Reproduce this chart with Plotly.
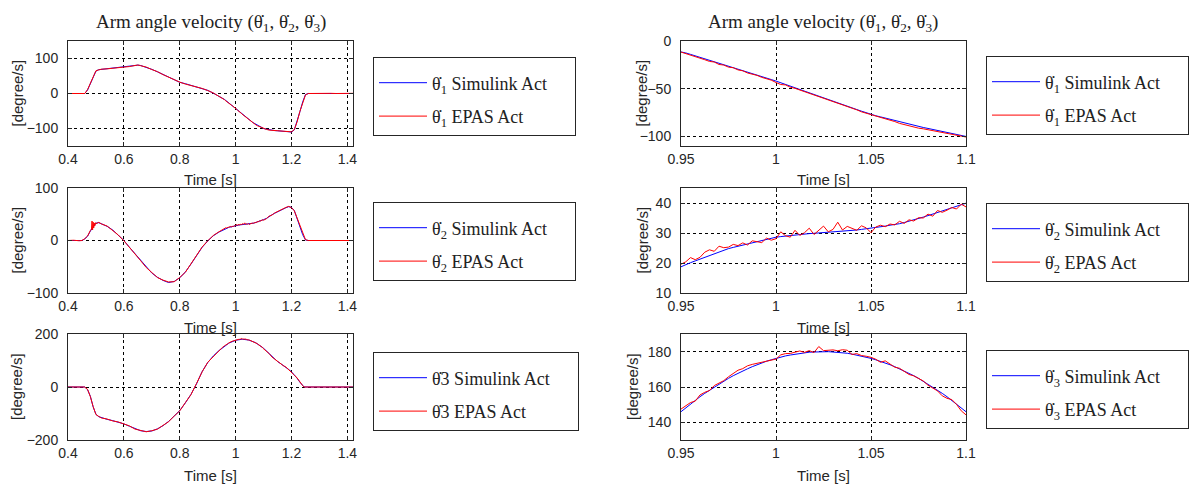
import plotly.graph_objects as go

# ---------------- data ----------------
# fine time grid used inside the zoomed window (0.95 .. 1.1 s)
t_fine = [round(0.95 + 0.0025 * i, 4) for i in range(61)]

# ---- theta1 ----
t1_pre = [0.40, 0.42, 0.44, 0.46, 0.47, 0.48, 0.49, 0.50, 0.51, 0.52, 0.54, 0.56, 0.58, 0.60, 0.62, 0.64,
          0.65, 0.66, 0.68, 0.70, 0.72, 0.74, 0.76, 0.78, 0.80, 0.82, 0.84, 0.86, 0.88, 0.90, 0.92, 0.94]
sim1_pre = [0, 0, 0, 0, 10, 28, 47, 64, 68, 69, 70, 72, 73.5, 75, 77.5, 80,
            81, 80, 75, 69, 62, 55, 46, 39, 32, 28, 23, 19, 14, 9, 1, -7]
epas1_pre = [0, 0.5, -0.5, 0, 11, 29, 46, 65, 67.5, 69.5, 70.5, 71.5, 74, 75.5, 77, 80.5,
             81.5, 79.5, 75.5, 68.5, 62.5, 54, 46.5, 38.5, 32.5, 27, 23.5, 18.5, 14.5, 8.5, 1.5, -8]
sim1_fine = [-11.0, -12.5, -14.0, -15.5, -17.0, -18.5, -20.0, -21.5, -23.0, -24.5,
             -26.0, -27.6, -29.2, -30.8, -32.4, -34.0, -35.6, -37.2, -38.8, -40.4,
             -42.0, -43.8, -45.5, -47.3, -49.0, -50.8, -52.5, -54.3, -56.0, -57.8,
             -59.5, -61.3, -63.0, -64.8, -66.5, -68.3, -70.0, -71.8, -73.5, -75.3,
             -77.0, -78.3, -79.5, -80.8, -82.0, -83.3, -84.5, -85.8, -87.0, -88.3,
             -89.5, -90.6, -91.6, -92.7, -93.7, -94.8, -95.8, -96.9, -97.9, -99.0, -100.0]
epas1_fine = [-11.6, -13.1, -14.3, -16.4, -17.5, -19.6, -21.4, -22.0, -24.6, -25.2,
              -27.4, -28.0, -30.3, -31.2, -33.5, -34.6, -36.0, -38.1, -39.2, -41.0,
              -43.5, -45.6, -46.0, -48.4, -49.6, -51.3, -53.1, -54.9, -56.4, -58.6,
              -60.2, -61.8, -63.9, -65.1, -67.2, -68.6, -70.8, -72.1, -74.2, -75.6,
              -77.4, -78.6, -80.2, -81.5, -83.1, -84.4, -86.3, -87.6, -88.5, -90.4,
              -91.3, -92.0, -92.9, -94.1, -94.8, -96.2, -96.9, -98.2, -98.8, -99.9, -100.6]
t1_post = [1.11, 1.12, 1.13, 1.14, 1.15, 1.16, 1.17, 1.18, 1.19, 1.20, 1.21, 1.22, 1.23, 1.24, 1.25, 1.26,
           1.28, 1.30, 1.32, 1.34, 1.36, 1.38, 1.40, 1.42]
sim1_post = [-102, -104, -105.5, -106, -106.5, -107, -107, -107.5, -108, -110, -104, -80, -52, -24, -3, 0,
             0, 0, 0, 0, 0, 0, 0, 0]
epas1_post = [-102.5, -104.5, -105, -106.5, -107, -106.5, -107.5, -108, -108.5, -109.5, -103, -81, -51, -25, -4, 0,
              0.5, -0.5, 0, 0.5, 0, -0.5, 0, 0.5]

# ---- theta2 ----
t2_pre = [0.40, 0.42, 0.44, 0.45, 0.46, 0.47, 0.48, 0.484, 0.486, 0.488, 0.490, 0.492, 0.494, 0.496, 0.498,
          0.50, 0.51, 0.52, 0.54, 0.56, 0.58, 0.60, 0.62, 0.64, 0.66, 0.68, 0.70, 0.72, 0.74, 0.76,
          0.78, 0.80, 0.82, 0.84, 0.86, 0.88, 0.90, 0.92, 0.94]
sim2_pre = [0, 0, 0, 0, 3, 8, 18, 21, 23, 25, 27, 29, 30.5, 31.5, 32.5,
            33, 34, 32, 27, 20, 10, 0, -13, -25, -39, -51, -62, -70, -76, -80,
            -78, -71, -60, -45, -30, -13, -1, 9, 16]
epas2_pre = [0, 0.5, -0.5, 0, 3.5, 8.5, 19, 22, 37, 20, 35, 24, 33, 28, 34,
             32, 34.5, 31.5, 27.5, 19.5, 10.5, -0.5, -12.5, -25.5, -38.5, -51.5, -61.5, -70.5, -75.5, -79,
             -78.5, -70.5, -60.5, -44.5, -30.5, -12.5, -0.5, 9.5, 16.5]
sim2_fine = [18.9, 19.5, 20.1, 20.7, 21.3, 21.9, 22.6, 23.2, 23.8, 24.4,
             24.8, 25.2, 25.6, 26.0, 26.3, 26.7, 27.1, 27.5, 27.9, 28.2,
             28.6, 28.8, 29.0, 29.2, 29.4, 29.6, 29.7, 29.8, 29.9, 30.0,
             30.1, 30.2, 30.3, 30.4, 30.5, 30.6, 30.8, 31.0, 31.2, 31.4,
             31.5, 31.8, 32.0, 32.3, 32.6, 32.8, 33.1, 33.5, 33.9, 34.3,
             34.8, 35.3, 35.8, 36.3, 36.8, 37.4, 37.9, 38.4, 38.9, 39.4, 39.8]
epas2_fine = [19.6, 20.4, 21.8, 21.1, 21.9, 23.6, 24.4, 23.9, 25.6, 25.1,
              25.3, 26.2, 25.8, 26.7, 26.0, 27.4, 27.1, 26.8, 28.3, 27.6,
              28.1, 30.4, 29.1, 28.6, 30.9, 29.2, 30.1, 31.6, 29.5, 30.8,
              32.3, 30.4, 31.2, 33.6, 31.0, 32.2, 31.5, 30.9, 32.4, 31.7,
              30.1, 32.0, 32.6, 32.1, 33.0, 32.7, 33.9, 33.2, 34.4, 34.0,
              35.1, 35.0, 36.3, 35.6, 37.5, 36.9, 37.6, 38.5, 38.0, 39.6, 38.7]
t2_post = [1.11, 1.12, 1.13, 1.14, 1.15, 1.16, 1.17, 1.18, 1.19, 1.20, 1.21, 1.22, 1.23, 1.24, 1.25, 1.26,
           1.28, 1.30, 1.32, 1.34, 1.36, 1.38, 1.40, 1.42]
sim2_post = [42, 46, 49, 52, 55, 57.5, 60, 62.5, 64.5, 63, 57, 42, 26, 11, 1, 0,
             0, 0, 0, 0, 0, 0, 0, 0]
epas2_post = [41.5, 46.5, 48.5, 52.5, 55.5, 57, 60.5, 63, 65, 62.5, 56.5, 42.5, 25.5, 11.5, 1.5, 0,
              0, 0, 0, 0, 0, 0, 0, 0]

# ---- theta3 ----
t3_pre = [0.40, 0.42, 0.44, 0.46, 0.47, 0.48, 0.49, 0.50, 0.51, 0.52, 0.54, 0.56, 0.58, 0.60, 0.62,
          0.64, 0.66, 0.68, 0.70, 0.72, 0.74, 0.76, 0.78, 0.80, 0.82, 0.84, 0.86, 0.88, 0.90, 0.92, 0.94]
sim3_pre = [0, 0, 0, 0, -10, -35, -75, -103, -112, -116, -122, -127, -133, -139, -148,
            -158, -165, -168, -166, -158, -146, -130, -111, -89, -60, -28, 12, 58, 92, 117, 137]
epas3_pre = [0, 0, 0, 0, -9, -36, -74, -104, -111, -117, -121, -128, -132, -140, -147,
             -159, -164, -169, -165, -159, -145, -131, -110, -90, -59, -29, 13, 57, 93, 116, 138]
sim3_fine = [146.0, 148.2, 150.4, 152.5, 154.5, 156.4, 158.2, 160.0, 161.7, 163.3,
             164.9, 166.4, 167.8, 169.1, 170.3, 171.5, 172.6, 173.6, 174.6, 175.4,
             176.2, 176.9, 177.6, 178.1, 178.6, 179.1, 179.4, 179.7, 179.8, 180.0,
             180.0, 180.0, 179.8, 179.7, 179.4, 179.1, 178.6, 178.1, 177.6, 176.9,
             176.2, 175.4, 174.6, 173.6, 172.6, 171.5, 170.3, 169.1, 167.8, 166.4,
             164.9, 163.3, 161.7, 160.0, 158.2, 156.4, 154.5, 152.5, 150.4, 148.2, 146.0]
epas3_fine = [147.5, 149.5, 151.2, 152.0, 155.5, 157.0, 158.0, 160.8, 162.0, 163.6,
              165.8, 167.9, 169.5, 170.4, 172.0, 172.8, 173.4, 174.3, 174.9, 175.6,
              175.8, 178.2, 178.9, 179.0, 179.5, 180.4, 179.6, 180.6, 179.5, 182.9,
              180.6, 180.9, 181.0, 180.5, 181.1, 180.8, 178.4, 178.9, 177.8, 177.4,
              176.8, 175.7, 174.0, 174.8, 172.9, 171.2, 170.6, 168.8, 167.1, 166.3,
              164.6, 163.4, 161.0, 159.6, 157.8, 155.0, 153.6, 152.9, 150.2, 146.5, 144.3]
t3_post = [1.11, 1.12, 1.13, 1.14, 1.15, 1.16, 1.17, 1.18, 1.19, 1.20, 1.21, 1.22, 1.23, 1.24, 1.245,
           1.26, 1.28, 1.30, 1.32, 1.34, 1.36, 1.38, 1.40, 1.42]
sim3_post = [136, 125, 114, 104, 96, 89, 82, 74, 66, 57, 46, 33, 18, 4, 0,
             0, 0, 0, 0, 0, 0, 0, 0, 0]
epas3_post = [135, 126, 113, 105, 95, 90, 81, 75, 65, 58, 45, 34, 17, 5, 0,
              0, 0, 0, 0, 0, 0, 0, 0, 0]

# tick labels
left_xticks = [0.4, 0.6, 0.8, 1.0, 1.2, 1.4]
left_xtext = ["0.4", "0.6", "0.8", "1", "1.2", "1.4"]
right_xticks = [0.95, 1.0, 1.05, 1.1]
right_xtext = ["0.95", "1", "1.05", "1.1"]
yticks = {
    1: [-100, 0, 100], 2: [-100, -50, 0],
    3: [-100, 0, 100], 4: [10, 20, 30, 40],
    5: [-200, 0, 200], 6: [140, 160, 180],
}
yranges = {1: [-150, 150], 2: [-110, 0], 3: [-100, 100], 4: [10, 45], 5: [-200, 200], 6: [130, 190]}

TH = "θ\u0307"
PAD = "\u00a0" * 5
title_text = f"Arm angle velocity ({TH}<sub>1</sub>, {TH}<sub>2</sub>, {TH}<sub>3</sub>)"
ylabel_text = "[degree/s]"
xlabel_text = "Time [s]"
legend_names = {
    1: (f"{TH}<sub>1</sub> Simulink Act{PAD}", f"{TH}<sub>1</sub> EPAS Act"),
    2: (f"{TH}<sub>1</sub> Simulink Act{PAD}", f"{TH}<sub>1</sub> EPAS Act"),
    3: (f"{TH}<sub>2</sub> Simulink Act{PAD}", f"{TH}<sub>2</sub> EPAS Act"),
    4: (f"{TH}<sub>2</sub> Simulink Act{PAD}", f"{TH}<sub>2</sub> EPAS Act"),
    5: (f"{TH}3 Simulink Act{PAD}", f"{TH}3 EPAS Act"),
    6: (f"{TH}<sub>3</sub> Simulink Act{PAD}", f"{TH}<sub>3</sub> EPAS Act"),
}

t1 = t1_pre + t_fine + t1_post
sim1 = sim1_pre + sim1_fine + sim1_post
epas1 = epas1_pre + epas1_fine + epas1_post
t2 = t2_pre + t_fine + t2_post
sim2 = sim2_pre + sim2_fine + sim2_post
epas2 = epas2_pre + epas2_fine + epas2_post
t3 = t3_pre + t_fine + t3_post
sim3 = sim3_pre + sim3_fine + sim3_post
epas3 = epas3_pre + epas3_fine + epas3_post

series = {1: (t1, sim1, epas1), 3: (t2, sim2, epas2), 5: (t3, sim3, epas3)}

# ---------------- figure ----------------
W, H = 1189, 484
ML, MR, MT, MB = 30, 0, 0, 10
PW, PH = W - ML - MR, H - MT - MB


def fx(px):
    return (px - ML) / PW


def fy(py):
    return 1 - (py - MT) / PH


fig = go.Figure()

for k in range(1, 7):
    src = k if k % 2 == 1 else k - 1
    t, s, e = series[src]
    ax = "" if k == 1 else str(k)
    leg = "legend" if k == 1 else "legend" + str(k)
    n_sim, n_epas = legend_names[k]
    fig.add_trace(go.Scatter(x=t, y=s, mode="lines", name=n_sim,
                             line=dict(color="#0000FF", width=1),
                             xaxis="x" + ax, yaxis="y" + ax, legend=leg,
                             legendgroup=f"s{k}"))
    fig.add_trace(go.Scatter(x=t, y=e, mode="lines", name=n_epas,
                             line=dict(color="#FF0000", width=1),
                             xaxis="x" + ax, yaxis="y" + ax, legend=leg,
                             legendgroup=f"e{k}"))

AX = "#262626"
common = dict(showline=True, linecolor=AX, linewidth=1, mirror="allticks",
              ticks="inside", ticklen=4, tickcolor=AX, showgrid=True,
              gridcolor="black", griddash="3px,3px", gridwidth=1, zeroline=False,
              automargin=False,
              tickfont=dict(family="Liberation Sans", size=14, color=AX))

left_dom = [fx(68), fx(353)]
right_dom = [fx(681), fx(966)]
row_px = {1: (41, 146), 2: (188, 293), 3: (334, 440)}
row_dom = {r: [fy(b), fy(t)] for r, (t, b) in row_px.items()}
ytitle_x = {1: 17, 2: 641, 3: 17, 4: 642, 5: 16, 6: 632}
xtitle_standoff = {1: 8, 2: 8, 3: 9, 4: 9, 5: 11, 6: 11}

layout = {}
annotations = []
for k in range(1, 7):
    row = (k + 1) // 2
    left = k % 2 == 1
    ax = "" if k == 1 else str(k)
    layout["xaxis" + ax] = dict(
        common, domain=left_dom if left else right_dom, anchor="y" + ax,
        range=[0.4, 1.42] if left else [0.95, 1.1],
        tickvals=left_xticks if left else right_xticks,
        ticktext=left_xtext if left else right_xtext,
        title=dict(text=xlabel_text, standoff=xtitle_standoff[k],
                   font=dict(family="Liberation Sans", size=15, color=AX)),
    )
    layout["yaxis" + ax] = dict(
        common, domain=row_dom[row], anchor="x" + ax,
        range=yranges[k], tickvals=yticks[k],
        ticklabelstandoff=6,
    )
    annotations.append(dict(
        text=ylabel_text, xref="paper", yref="paper", textangle=-90,
        x=fx(ytitle_x[k]), y=fy(sum(row_px[row]) / 2), xanchor="center", yanchor="middle",
        showarrow=False, font=dict(family="Liberation Sans", size=15, color=AX)))

legend_top = {1: 57, 2: 56, 3: 202, 4: 203, 5: 352, 6: 350}
for k in range(1, 7):
    left = k % 2 == 1
    name = "legend" if k == 1 else "legend" + str(k)
    layout[name] = dict(
        x=fx(373 if left else 986), y=fy(legend_top[k]),
        xanchor="left", yanchor="top", bgcolor="white",
        bordercolor=AX, borderwidth=1, tracegroupgap=7, itemwidth=48,
        title=dict(text="\u00a0", font=dict(size=5)),
        font=dict(family="Liberation Serif", size=18, color="#222222"),
    )

for cx in ((68 + 353) / 2, (681 + 966) / 2):
    annotations.append(dict(
        text=title_text, xref="paper", yref="paper",
        x=fx(cx), y=fy(23), xanchor="center", yanchor="middle",
        showarrow=False, font=dict(family="Liberation Serif", size=19, color="#222222")))

fig.update_layout(**layout)
fig.update_layout(
    width=W, height=H, autosize=False,
    margin=dict(l=ML, r=MR, t=MT, b=MB),
    paper_bgcolor="white", plot_bgcolor="white",
    annotations=annotations,
)

fig.write_html("out.html", config={"displayModeBar": False},
               post_script="document.body.style.margin='0px';")
